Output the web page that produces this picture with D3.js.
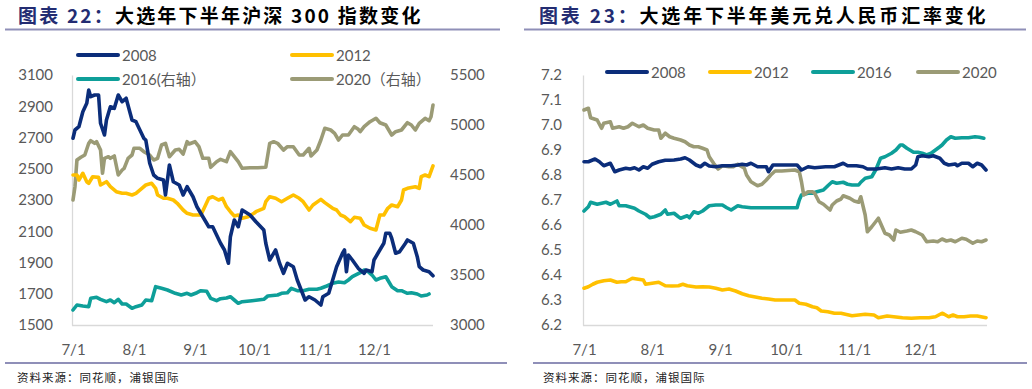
<!DOCTYPE html>
<html><head><meta charset="utf-8">
<script src="https://cdn.jsdelivr.net/npm/d3@7"></script>
<style>
html,body{margin:0;padding:0;background:#fff;}
svg{display:block;}
text{font-family:Lato,"Noto Sans CJK SC",sans-serif;}
</style></head>
<body>
<svg id="c" width="1032" height="389"></svg>
<script>
// ---------- DATA (x = days after 7/1, y = value) ----------
const csiLeftTicks = [1500,1700,1900,2100,2300,2500,2700,2900,3100];
const csiRightTicks = [3000,3500,4000,4500,5000,5500];
const fxTicks = [6.2,6.3,6.4,6.5,6.6,6.7,6.8,6.9,7.0,7.1,7.2];
const monthTicks = ["7/1","8/1","9/1","10/1","11/1","12/1"];

const csi2008 = [[0,2695],[1,2748],[3,2769],[5,2865],[7,2919],[8,3004],[9,2961],[11,2972],[13,2972],[14,2791],[16,2716],[17,2812],[19,2897],[21,2887],[23,2972],[25,2929],[27,2951],[30,2812],[32,2801],[34,2748],[36,2695],[37,2684],[39,2535],[41,2460],[43,2439],[46,2428],[47,2332],[49,2524],[51,2417],[54,2396],[56,2332],[58,2385],[61,2321],[63,2257],[66,2193],[69,2129],[71,2129],[73,2076],[75,2023],[77,1980],[79,1895],[80,2065],[82,2172],[84,2129],[86,2236],[90,2204],[93,2161],[97,2108],[98,2023],[100,1916],[103,1980],[105,1895],[107,1831],[109,1895],[112,1873],[114,1788],[116,1724],[118,1660],[120,1681],[123,1660],[126,1628],[127,1681],[130,1703],[132,1788],[134,1873],[137,1959],[138,1980],[139,1841],[140,1948],[142,1916],[145,1863],[148,1831],[149,1852],[152,1841],[153,1916],[155,1959],[158,2023],[159,2087],[161,2087],[162,2055],[164,1959],[166,1969],[169,2023],[170,2044],[173,2023],[175,1937],[176,1873],[178,1852],[181,1841],[183,1815]];
const csi2012 = [[0,2460],[2,2460],[3,2428],[5,2471],[7,2417],[8,2407],[10,2449],[13,2445],[14,2396],[17,2417],[19,2385],[22,2353],[25,2343],[27,2343],[30,2332],[32,2343],[35,2375],[37,2396],[40,2407],[42,2375],[43,2332],[46,2311],[48,2311],[51,2300],[53,2279],[56,2236],[58,2215],[61,2204],[64,2204],[65,2204],[67,2257],[69,2311],[71,2321],[74,2300],[76,2311],[78,2257],[80,2225],[82,2198],[84,2204],[86,2183],[89,2193],[92,2215],[93,2225],[97,2247],[98,2289],[100,2321],[103,2311],[106,2289],[109,2311],[112,2332],[115,2311],[117,2289],[120,2236],[122,2268],[126,2304],[128,2283],[132,2247],[134,2236],[136,2204],[138,2193],[141,2161],[143,2189],[146,2183],[148,2140],[151,2119],[154,2108],[156,2204],[158,2204],[160,2247],[162,2268],[165,2257],[167,2300],[168,2364],[170,2375],[174,2385],[176,2375],[177,2449],[179,2460],[181,2449],[183,2518]];
const csi2016 = [[0,3150],[2,3200],[5,3190],[8,3183],[9,3267],[12,3277],[14,3257],[17,3233],[19,3250],[21,3223],[23,3257],[25,3210],[27,3210],[30,3167],[32,3183],[35,3200],[37,3250],[40,3243],[42,3383],[45,3367],[48,3350],[52,3317],[55,3300],[58,3317],[60,3300],[63,3323],[65,3343],[68,3337],[70,3267],[73,3243],[75,3263],[78,3270],[80,3283],[82,3250],[84,3217],[86,3233],[91,3243],[94,3250],[97,3257],[99,3290],[104,3300],[106,3317],[109,3323],[111,3367],[114,3343],[117,3343],[120,3357],[124,3357],[126,3367],[129,3390],[132,3417],[135,3430],[138,3423],[140,3450],[142,3483],[146,3523],[148,3550],[150,3533],[152,3500],[154,3450],[156,3467],[159,3483],[160,3450],[162,3383],[165,3343],[167,3343],[170,3317],[172,3323],[175,3310],[177,3290],[180,3300],[181,3310]];
const csi2020 = [[0,4250],[1,4383],[2,4650],[4,4677],[6,4700],[8,4817],[9,4843],[11,4817],[12,4833],[14,4750],[15,4517],[16,4667],[18,4683],[19,4667],[21,4690],[23,4500],[25,4550],[26,4567],[28,4667],[30,4700],[31,4767],[34,4767],[36,4733],[39,4700],[41,4650],[43,4667],[45,4800],[47,4817],[49,4683],[52,4750],[54,4757],[56,4710],[58,4833],[59,4810],[62,4833],[64,4783],[66,4667],[69,4667],[70,4577],[73,4633],[75,4657],[78,4633],[80,4733],[82,4683],[84,4633],[86,4567],[90,4573],[94,4573],[98,4577],[100,4817],[102,4833],[104,4817],[107,4750],[109,4783],[112,4783],[115,4700],[117,4700],[120,4767],[121,4690],[124,4750],[126,4850],[128,4967],[131,4950],[133,4917],[135,4850],[137,4900],[140,4900],[143,4983],[145,4957],[146,4933],[148,4983],[151,5033],[154,5067],[156,5023],[159,5000],[162,4900],[164,4933],[167,4950],[170,5023],[172,5000],[174,4950],[176,5017],[179,5067],[181,5043],[182,5083],[183,5200]];

const fx2008 = [[0,6.853],[2,6.853],[5,6.864],[7,6.853],[9,6.837],[12,6.847],[14,6.813],[16,6.82],[19,6.827],[21,6.824],[23,6.829],[25,6.82],[27,6.833],[29,6.827],[31,6.843],[34,6.853],[37,6.859],[39,6.859],[41,6.86],[44,6.864],[46,6.869],[48,6.86],[51,6.84],[53,6.833],[55,6.847],[57,6.836],[60,6.833],[63,6.837],[67,6.837],[70,6.84],[72,6.843],[74,6.84],[76,6.847],[79,6.833],[83,6.833],[84,6.813],[86,6.84],[89,6.84],[97,6.84],[99,6.82],[102,6.833],[105,6.829],[110,6.833],[114,6.833],[118,6.847],[120,6.837],[124,6.837],[127,6.833],[129,6.824],[133,6.824],[137,6.829],[140,6.824],[143,6.829],[146,6.824],[149,6.824],[151,6.84],[152,6.873],[154,6.877],[157,6.873],[159,6.877],[162,6.867],[164,6.847],[166,6.84],[169,6.844],[170,6.837],[172,6.847],[175,6.847],[177,6.833],[179,6.847],[181,6.84],[183,6.82]];
const fx2012 = [[0,6.347],[2,6.353],[4,6.363],[6,6.371],[9,6.377],[12,6.38],[15,6.371],[17,6.373],[19,6.373],[22,6.387],[24,6.384],[27,6.38],[28,6.363],[31,6.367],[34,6.371],[37,6.357],[40,6.356],[43,6.357],[45,6.363],[47,6.357],[51,6.352],[54,6.353],[57,6.352],[60,6.347],[63,6.34],[66,6.344],[69,6.336],[72,6.325],[75,6.317],[78,6.312],[81,6.307],[84,6.304],[87,6.3],[90,6.3],[96,6.3],[98,6.287],[101,6.283],[104,6.273],[106,6.269],[108,6.256],[111,6.253],[114,6.247],[117,6.247],[119,6.243],[122,6.237],[125,6.24],[128,6.243],[132,6.24],[134,6.229],[138,6.236],[141,6.233],[145,6.229],[149,6.227],[153,6.229],[157,6.229],[160,6.233],[163,6.247],[164,6.243],[166,6.233],[168,6.24],[170,6.233],[173,6.233],[176,6.236],[179,6.236],[183,6.229]];
const fx2016 = [[0,6.656],[2,6.673],[3,6.691],[6,6.683],[8,6.687],[10,6.691],[12,6.683],[15,6.696],[16,6.677],[19,6.677],[21,6.672],[23,6.667],[25,6.656],[28,6.643],[30,6.629],[32,6.633],[35,6.643],[37,6.66],[38,6.643],[41,6.647],[43,6.633],[44,6.627],[47,6.637],[48,6.629],[50,6.653],[52,6.647],[54,6.656],[57,6.677],[60,6.68],[63,6.68],[65,6.669],[67,6.66],[70,6.677],[72,6.673],[76,6.669],[83,6.669],[89,6.669],[97,6.669],[98,6.7],[99,6.72],[102,6.727],[104,6.727],[106,6.733],[109,6.74],[111,6.757],[113,6.773],[115,6.767],[118,6.771],[120,6.763],[122,6.76],[125,6.76],[126,6.771],[128,6.787],[131,6.793],[133,6.824],[135,6.867],[137,6.873],[140,6.887],[142,6.9],[144,6.92],[145,6.92],[147,6.907],[150,6.891],[152,6.891],[154,6.887],[156,6.88],[158,6.887],[160,6.9],[162,6.913],[163,6.92],[165,6.94],[167,6.953],[169,6.947],[172,6.949],[175,6.949],[178,6.953],[180,6.951],[182,6.947]];
const fx2020 = [[0,7.06],[2,7.067],[3,7.029],[6,7.02],[8,6.987],[9,7.007],[12,7.013],[13,6.987],[16,6.993],[18,6.987],[20,6.993],[22,7.007],[25,6.993],[27,7.0],[29,6.987],[32,6.98],[34,6.98],[35,6.947],[37,6.967],[39,6.953],[41,6.947],[44,6.94],[46,6.933],[48,6.92],[50,6.913],[52,6.913],[54,6.907],[56,6.9],[57,6.873],[59,6.847],[61,6.824],[63,6.837],[66,6.833],[68,6.833],[70,6.843],[73,6.827],[74,6.8],[76,6.773],[79,6.757],[81,6.763],[83,6.78],[85,6.8],[87,6.816],[90,6.816],[96,6.82],[98,6.813],[99,6.773],[100,6.72],[102,6.733],[104,6.733],[105,6.727],[107,6.693],[109,6.683],[112,6.66],[113,6.68],[115,6.696],[117,6.704],[118,6.717],[121,6.707],[123,6.696],[125,6.691],[126,6.713],[128,6.64],[129,6.573],[131,6.593],[134,6.627],[135,6.607],[137,6.567],[139,6.56],[141,6.54],[142,6.58],[144,6.571],[147,6.576],[149,6.58],[151,6.573],[154,6.56],[156,6.533],[159,6.536],[161,6.533],[163,6.544],[165,6.536],[167,6.54],[169,6.533],[172,6.547],[174,6.543],[177,6.527],[179,6.536],[181,6.533],[183,6.54]];

// ---------- STYLE ----------
const COL = {y2008:"#0B2D7A", y2012:"#FFC000", y2016:"#0E9F99", y2020:"#9B9B76"};
const GRAY = "#595959", AXIS = "#D9D9D9", RULE = "#8F8FB8", NAVY = "#232C72";
const svg = d3.select("#c");
svg.append("rect").attr("width",1032).attr("height",389).attr("fill","#fff");

const start = new Date(2001,6,1);
const toDate = d => d3.timeDay.offset(start, d);
const end = toDate(183);
const tickDates = monthTicks.map(s => { const [m,d] = s.split("/").map(Number); return new Date(2001,m-1,d); });

function title(x0, lineX0, lineX1, prefix, rest, spacing){
  const t = svg.append("text").attr("x",x0).attr("y",23)
    .style("font-family","'Noto Sans CJK SC'").style("font-size","19px").style("font-weight","bold")
    .style("letter-spacing",spacing+"px");
  t.append("tspan").attr("fill",NAVY).text(prefix);
  t.append("tspan").attr("fill","#000").text(rest);
  svg.append("line").attr("x1",lineX0).attr("x2",lineX1).attr("y1",29.5).attr("y2",29.5)
    .attr("stroke",RULE).attr("stroke-width",2);
}
function footer(x0, lineX0, lineX1){
  svg.append("line").attr("x1",lineX0).attr("x2",lineX1).attr("y1",363).attr("y2",363)
    .attr("stroke",RULE).attr("stroke-width",2);
  svg.append("text").attr("x",x0).attr("y",382).attr("fill","#222")
    .style("font-family","'Noto Sans CJK SC'").style("font-size","11.5px").style("letter-spacing","1px")
    .text("资料来源：同花顺，浦银国际");
}
function styleAxis(g, showDomain){
  g.selectAll(".tick line").remove();
  g.select(".domain").attr("stroke", showDomain ? AXIS : "none").attr("stroke-width",1.3);
  g.selectAll("text").attr("fill",GRAY).style("font-size","15px").style("font-family","Lato");
}
function drawLine(data, x, y, color){
  svg.append("path").datum(data)
    .attr("fill","none").attr("stroke",color).attr("stroke-width",3.6)
    .attr("stroke-linejoin","round").attr("stroke-linecap","round")
    .attr("d", d3.line().x(d => x(toDate(d[0]))).y(d => y(d[1])));
}
function legendItem(x, y, color, label){
  svg.append("line").attr("x1",x).attr("x2",x+40).attr("y1",y).attr("y2",y)
    .attr("stroke",color).attr("stroke-width",4).attr("stroke-linecap","round");
  svg.append("text").attr("x",x+44).attr("y",y+5.5).attr("fill",GRAY)
    .style("font-size","15px").text(label);
}

// ---------- LEFT CHART ----------
title(18, 5, 500, "图表 22：", "大选年下半年沪深 300 指数变化", 2.2);
{
  const x = d3.scaleTime().domain([start, end]).range([73, 433]);
  const yL = d3.scaleLinear().domain([1500,3100]).range([325,75]);
  const yR = d3.scaleLinear().domain([3000,5500]).range([325,75]);
  const gx = svg.append("g").attr("transform","translate(0,325)")
    .call(d3.axisBottom(x).tickValues(tickDates).tickFormat(d3.timeFormat("%-m/%-d")).tickSize(0).tickPadding(19).tickSizeOuter(0));
  styleAxis(gx, true);
  gx.select(".domain").attr("d","M72,0.5H433");
  const gyl = svg.append("g").attr("transform","translate(72,0)")
    .call(d3.axisLeft(yL).tickValues(csiLeftTicks).tickFormat(d3.format("d")).tickSize(0).tickPadding(19).tickSizeOuter(0));
  styleAxis(gyl, true);
  const gyr = svg.append("g").attr("transform","translate(433,0)")
    .call(d3.axisRight(yR).tickValues(csiRightTicks).tickFormat(d3.format("d")).tickSize(0).tickPadding(17).tickSizeOuter(0));
  styleAxis(gyr, false);

  drawLine(csi2020, x, yR, COL.y2020);
  drawLine(csi2016, x, yR, COL.y2016);
  drawLine(csi2012, x, yL, COL.y2012);
  drawLine(csi2008, x, yL, COL.y2008);

  legendItem(78, 55, COL.y2008, "2008");
  legendItem(292, 55, COL.y2012, "2012");
  legendItem(78, 79, COL.y2016, "2016(右轴）");
  legendItem(292, 79, COL.y2020, "2020（右轴）");
}
footer(17, 5, 507);

// ---------- RIGHT CHART ----------
title(539, 524, 1026, "图表 23：", "大选年下半年美元兑人民币汇率变化", 2.8);
{
  const x = d3.scaleTime().domain([start, end]).range([584, 986]);
  const y = d3.scaleLinear().domain([6.2,7.2]).range([325,75]);
  const gx = svg.append("g").attr("transform","translate(0,325)")
    .call(d3.axisBottom(x).tickValues(tickDates).tickFormat(d3.timeFormat("%-m/%-d")).tickSize(0).tickPadding(19).tickSizeOuter(0));
  styleAxis(gx, true);
  gx.select(".domain").attr("d","M583,0.5H987");
  const gy = svg.append("g").attr("transform","translate(583,0)")
    .call(d3.axisLeft(y).tickValues(fxTicks).tickFormat(d3.format(".1f")).tickSize(0).tickPadding(21).tickSizeOuter(0));
  styleAxis(gy, true);

  drawLine(fx2012, x, y, COL.y2012);
  drawLine(fx2016, x, y, COL.y2016);
  drawLine(fx2020, x, y, COL.y2020);
  drawLine(fx2008, x, y, COL.y2008);

  legendItem(607, 72, COL.y2008, "2008");
  legendItem(710, 72, COL.y2012, "2012");
  legendItem(813, 72, COL.y2016, "2016");
  legendItem(918, 72, COL.y2020, "2020");
}
footer(543, 533, 1027);
</script>
</body></html>
